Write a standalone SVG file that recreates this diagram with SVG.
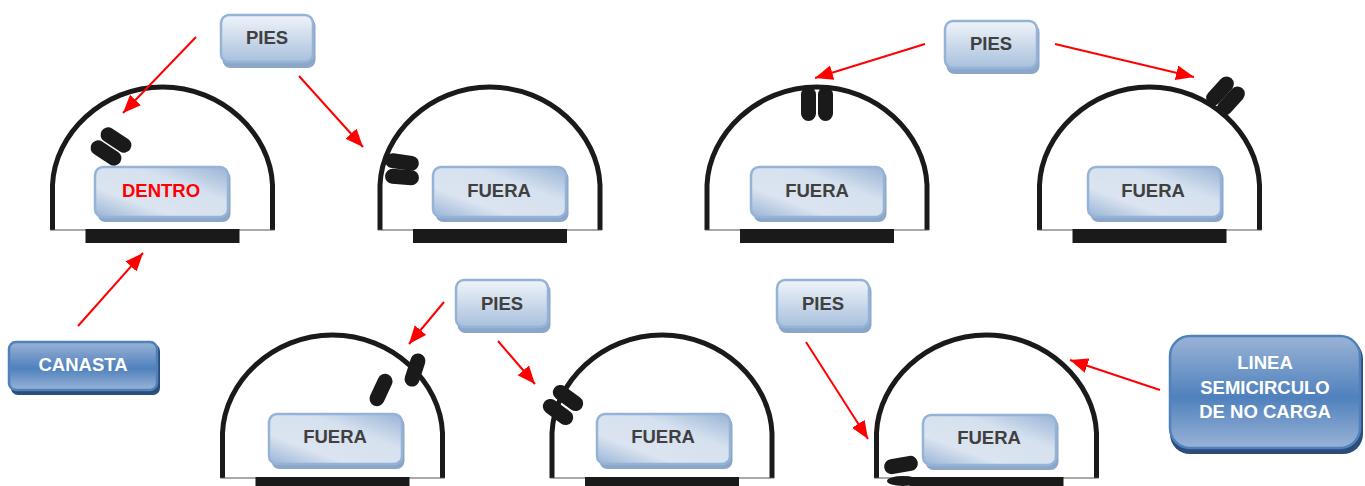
<svg xmlns="http://www.w3.org/2000/svg" width="1365" height="486" viewBox="0 0 1365 486">
<style>
.t{font-family:"Liberation Sans",Arial,sans-serif;font-weight:700;text-anchor:middle}
.d{fill:#404040;font-size:18.5px}
.w{fill:#fff;font-size:18.5px}
.dome{fill:none;stroke:#1a1a1a;stroke-width:5}
.base{stroke:#555;stroke-width:1.2}
.foot{fill:#1a1a1a}
.arr{stroke:#f00;stroke-width:2;fill:none;marker-end:url(#ah)}
.ls{fill:#8ba6c8}
.lb{stroke:#95b3d7;stroke-width:2.5}
.ds{fill:#2c4d7c}
.db{stroke:#4f81bd;stroke-width:2.5;fill:url(#dark)}
</style>
<defs>
<marker id="ah" markerUnits="userSpaceOnUse" markerWidth="20" markerHeight="16" refX="18" refY="7.500" orient="auto"><path d="M0 0L18 7.500L0 15z" fill="#f00"/></marker>
<linearGradient id="lg" x1="0" y1="0" x2="0" y2="1"><stop offset="0" stop-color="#f0f4f9"/><stop offset="1" stop-color="#a8c0dd"/></linearGradient>
<linearGradient id="lg2" x1="0" y1="1" x2="1" y2="0"><stop offset="0" stop-color="#98b4d6"/><stop offset=".3" stop-color="#dbe4f0"/><stop offset=".65" stop-color="#d6e1ef"/><stop offset="1" stop-color="#98b4d6"/></linearGradient>
<linearGradient id="dark" x1="0" y1="0" x2="0" y2="1"><stop offset="0" stop-color="#9ab3d6"/><stop offset=".55" stop-color="#4f81bd"/><stop offset="1" stop-color="#9ab3d6"/></linearGradient>
<g id="dm">
<path class="dome" d="M-110 1V-44C-108-95-60-142 0-142C60-142 108-95 110-44V1"/>
<path class="base" d="M-112 1H112"/>
<rect class="foot" x="-77" y="0" width="154" height="14"/>
</g>
<g id="fb">
<rect class="ls" x="2.500" y="3" width="133" height="52" rx="8"/>
<rect class="lb" x="0" y="0" width="133" height="50" rx="8" fill="url(#lg2)"/>
</g>
<g id="pb">
<rect class="ls" x="1.500" y="3" width="93" height="50" rx="8"/>
<rect class="lb" x="0" y="0" width="92" height="47" rx="8" fill="url(#lg)"/>
</g>
<rect id="fo" class="foot" x="-17" y="-7.500" width="34" height="15" rx="7.500"/>
</defs>

<g id="dome-1"><use href="#dm" x="162.500" y="229"/>
<use href="#fo" transform="translate(116 140) rotate(33)"/><use href="#fo" transform="translate(106 153) rotate(33)"/>
<use href="#fb" x="95" y="167"/><text class="t" x="161" y="197" fill="#f00" font-size="18.500">DENTRO</text></g>

<g id="dome-2"><use href="#dm" x="490" y="229"/>
<use href="#fo" transform="translate(402 162) rotate(8)"/><use href="#fo" transform="translate(402 177) rotate(4)"/>
<use href="#fb" x="433" y="167"/><text class="t d" x="499" y="197">FUERA</text></g>

<g id="dome-3"><use href="#dm" x="817" y="229"/>
<use href="#fo" transform="translate(808.500 104) rotate(90)"/><use href="#fo" transform="translate(825.500 104) rotate(90)"/>
<use href="#fb" x="751" y="167"/><text class="t d" x="817" y="197">FUERA</text></g>

<g id="dome-4"><use href="#dm" x="1149.500" y="229"/>
<use href="#fo" transform="translate(1220 91) rotate(-48)"/><use href="#fo" transform="translate(1231 101) rotate(-48)"/>
<use href="#fb" x="1088" y="167"/><text class="t d" x="1153" y="197">FUERA</text></g>

<g id="dome-5"><use href="#dm" x="332.500" y="477"/>
<use href="#fo" transform="translate(381 390) rotate(-65)"/><use href="#fo" transform="translate(415 370) rotate(-72)"/>
<use href="#fb" x="269" y="414"/><text class="t d" x="335" y="443">FUERA</text></g>

<g id="dome-6"><use href="#dm" x="662" y="477"/>
<use href="#fo" transform="translate(568 398) rotate(36)"/><use href="#fo" transform="translate(558 412) rotate(36)"/>
<use href="#fb" x="597" y="414"/><text class="t d" x="663" y="443">FUERA</text></g>

<g id="dome-7"><use href="#dm" x="986.500" y="477"/>
<use href="#fo" transform="translate(901 465) rotate(-10)"/>
<ellipse class="foot" cx="903" cy="481" rx="16" ry="5"/>
<use href="#fb" x="923" y="415"/><text class="t d" x="989" y="444">FUERA</text></g>

<g id="pies-1"><use href="#pb" x="221" y="15"/><text class="t d" x="267" y="44">PIES</text></g>
<g id="pies-2"><use href="#pb" x="945" y="21"/><text class="t d" x="991" y="50">PIES</text></g>
<g id="pies-3"><use href="#pb" x="456" y="280"/><text class="t d" x="502" y="310">PIES</text></g>
<g id="pies-4"><use href="#pb" x="777" y="280"/><text class="t d" x="823" y="310">PIES</text></g>

<g id="canasta"><rect class="ds" x="11" y="344" width="149" height="51" rx="7"/><rect class="db" x="9" y="342" width="148" height="48" rx="7"/><text class="t w" x="83" y="371">CANASTA</text></g>

<g id="linea"><rect class="ds" x="1170" y="339" width="193" height="115" rx="20"/><rect class="db" x="1170" y="336" width="190" height="112" rx="20"/>
<text class="t w" x="1265" y="369">LINEA</text><text class="t w" x="1265" y="394">SEMICIRCULO</text><text class="t w" x="1265" y="418">DE NO CARGA</text></g>

<g id="connectors">
<path class="arr" d="M196 37L123 113"/>
<path class="arr" d="M299 76L363 147"/>
<path class="arr" d="M78 326L143 253"/>
<path class="arr" d="M925 44L815 78"/>
<path class="arr" d="M1055 44L1194 77"/>
<path class="arr" d="M444 302L409 344"/>
<path class="arr" d="M498 341L535 384"/>
<path class="arr" d="M806 342L868 439"/>
<path class="arr" d="M1160 390L1070 360"/>
</g>
</svg>
